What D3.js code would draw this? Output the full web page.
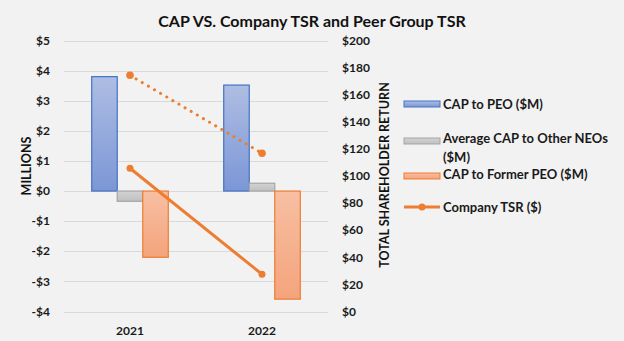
<!DOCTYPE html>
<meta charset="utf-8">
<style>
  body { margin: 0; background: #f2f2f2; }
  svg { display: block; font-family: Lato, "Open Sans", sans-serif; }
  .grid line { stroke: #d9d9d9; stroke-width: 1; }
  .tick-label { font-size: 12px; font-weight: bold; fill: #1a1a1a; }
  .legend text { font-size: 13px; font-weight: bold; fill: #1a1a1a; }
</style>
<body>
<svg width="624" height="341"></svg>
<script src="https://d3js.org/d3.v7.min.js"></script>
<script>

var years = ["2021", "2022"];
var capPeo = [3.8, 3.52];
var capOtherNeos = [-0.34, 0.26];
var capFormerPeo = [-2.2, -3.59];
var companyTsr = [105.7, 27.5];
var peerTsr = [174.3, 116.8];
var leftTicks = [5, 4, 3, 2, 1, 0, -1, -2, -3, -4];
var rightTicks = [200, 180, 160, 140, 120, 100, 80, 60, 40, 20, 0];

var svg = d3.select("svg");

var x = d3.scaleBand().domain(years).range([64, 328]).paddingInner(0.42).paddingOuter(0.21);
var series = ["peo", "neo", "former"];
var xs = d3.scaleBand().domain(series).range([0, x.bandwidth()]);
var y = d3.scaleLinear().domain([-4, 5]).range([311.5, 40.5]);
var y2 = d3.scaleLinear().domain([0, 200]).range([311.5, 40.5]);

// gradients
var defs = svg.append("defs");
function grad(id, top, bottom) {
  var g = defs.append("linearGradient").attr("id", id)
    .attr("x1", 0).attr("y1", 0).attr("x2", 0).attr("y2", 1);
  g.append("stop").attr("offset", "0%").attr("stop-color", top);
  g.append("stop").attr("offset", "100%").attr("stop-color", bottom);
}
grad("gBlue", "#aebde3", "#7c97d6");
grad("gGray", "#d2d2d2", "#c0c0c0");
grad("gOrange", "#f7bfa3", "#f4a47c");

var styles = {
  peo: { fill: "url(#gBlue)", stroke: "#4472c4" },
  neo: { fill: "url(#gGray)", stroke: "#a5a5a5" },
  former: { fill: "url(#gOrange)", stroke: "#ed7d31" }
};

// title
svg.append("text").attr("x", 312).attr("y", 27).attr("text-anchor", "middle")
  .style("font-size", "16px").style("font-weight", "bold").style("fill", "#111")
  .text("CAP VS. Company TSR and Peer Group TSR");

// gridlines
svg.append("g").attr("class", "grid").selectAll("line")
  .data(leftTicks).enter().append("line")
  .attr("x1", 64).attr("x2", 328)
  .attr("y1", function(d) { return Math.round(y(d)) + 0.5; })
  .attr("y2", function(d) { return Math.round(y(d)) + 0.5; });

// left axis labels
svg.append("g").selectAll("text").data(leftTicks).enter().append("text")
  .attr("class", "tick-label").attr("x", 50).attr("y", function(d) { return y(d); })
  .attr("dy", "0.35em").attr("text-anchor", "end")
  .text(function(d) { return (d < 0 ? "-$" : "$") + Math.abs(d); });

// right axis labels
svg.append("g").selectAll("text").data(rightTicks).enter().append("text")
  .attr("class", "tick-label").attr("x", 342).attr("y", function(d) { return y2(d); })
  .attr("dy", "0.35em").attr("text-anchor", "start")
  .text(function(d) { return "$" + d; });

// x labels
svg.append("g").selectAll("text").data(years).enter().append("text")
  .attr("class", "tick-label").attr("x", function(d) { return x(d) + x.bandwidth() / 2; })
  .attr("y", 331).attr("dy", "0.35em").attr("text-anchor", "middle")
  .text(function(d) { return d; });

// axis titles
svg.append("text").attr("transform", "translate(31,166) rotate(-90)")
  .attr("text-anchor", "middle").style("font-size", "12.5px").style("font-weight", "bold")
  .style("fill", "#111").text("MILLIONS");
svg.append("text").attr("transform", "translate(389,175) rotate(-90)")
  .attr("text-anchor", "middle").style("font-size", "12.5px").style("font-weight", "bold")
  .style("fill", "#111").text("TOTAL SHAREHOLDER RETURN");

// bars
var barData = [];
years.forEach(function(yr, i) {
  barData.push({ year: yr, key: "peo", v: capPeo[i] });
  barData.push({ year: yr, key: "neo", v: capOtherNeos[i] });
  barData.push({ year: yr, key: "former", v: capFormerPeo[i] });
});

svg.append("g").selectAll("rect").data(barData).enter().append("rect")
  .attr("x", function(d) { return x(d.year) + xs(d.key); })
  .attr("width", xs.bandwidth())
  .attr("y", function(d) { return y(Math.max(0, d.v)); })
  .attr("height", function(d) { return Math.abs(y(d.v) - y(0)); })
  .attr("fill", function(d) { return styles[d.key].fill; })
  .attr("stroke", function(d) { return styles[d.key].stroke; })
  .attr("stroke-width", 1.2);

// lines
var cx = function(i) { return x(years[i]) + x.bandwidth() / 2; };
var line = d3.line().x(function(d, i) { return cx(i); }).y(function(d) { return y2(d); });

svg.append("path").datum(peerTsr).attr("d", line)
  .attr("fill", "none").attr("stroke", "#ed7d31").attr("stroke-width", 3)
  .attr("stroke-linecap", "round").attr("stroke-dasharray", "0.1 7");
svg.append("g").selectAll("circle").data(peerTsr).enter().append("circle")
  .attr("cx", function(d, i) { return cx(i); }).attr("cy", function(d) { return y2(d); })
  .attr("r", 3.8).attr("fill", "#ed7d31");

svg.append("path").datum(companyTsr).attr("d", line)
  .attr("fill", "none").attr("stroke", "#ed7d31").attr("stroke-width", 3);
svg.append("g").selectAll("circle").data(companyTsr).enter().append("circle")
  .attr("cx", function(d, i) { return cx(i); }).attr("cy", function(d) { return y2(d); })
  .attr("r", 3.5).attr("fill", "#ed7d31");

// legend
var lg = svg.append("g").attr("class", "legend");
lg.append("rect").attr("x", 404).attr("y", 101).attr("width", 36).attr("height", 6)
  .attr("fill", "url(#gBlue)").attr("stroke", "#4472c4");
lg.append("text").attr("x", 443).attr("y", 104).attr("dy", "0.35em").text("CAP to PEO ($M)");
lg.append("rect").attr("x", 404).attr("y", 138).attr("width", 36).attr("height", 6)
  .attr("fill", "url(#gGray)").attr("stroke", "#a5a5a5");
lg.append("text").attr("x", 443).attr("y", 138).attr("dy", "0.35em").text("Average CAP to Other NEOs");
lg.append("text").attr("x", 443).attr("y", 157).attr("dy", "0.35em").text("($M)");
lg.append("rect").attr("x", 404).attr("y", 173).attr("width", 36).attr("height", 6)
  .attr("fill", "url(#gOrange)").attr("stroke", "#ed7d31");
lg.append("text").attr("x", 443).attr("y", 174).attr("dy", "0.35em").text("CAP to Former PEO ($M)");
lg.append("line").attr("x1", 404).attr("x2", 440).attr("y1", 207).attr("y2", 207)
  .attr("stroke", "#ed7d31").attr("stroke-width", 3);
lg.append("circle").attr("cx", 422).attr("cy", 207).attr("r", 3.5).attr("fill", "#ed7d31");
lg.append("text").attr("x", 443).attr("y", 207).attr("dy", "0.35em").text("Company TSR ($)");

</script>
</body>
